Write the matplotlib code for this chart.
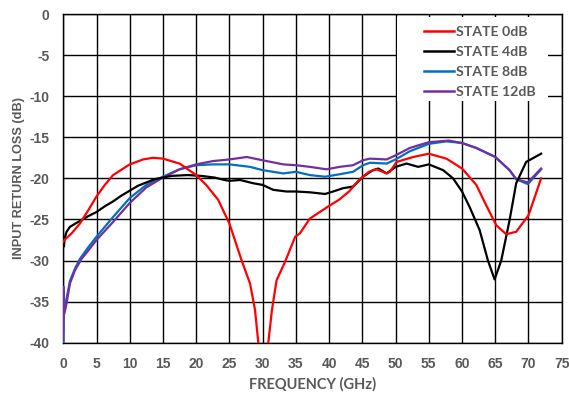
import matplotlib
matplotlib.use('Agg')
import matplotlib.pyplot as plt
from matplotlib import font_manager
from matplotlib.patches import Rectangle

# Input return loss vs frequency for each attenuation state
freq_0db = [0, 0.3, 1.25, 2.5, 3.75, 5, 6.25, 7.5, 10, 12, 13.5, 15, 17.5, 20, 21.5, 23.3,
            25, 26.8, 28.1, 28.85, 29.35, 29.8, 30.4, 30.85, 31.4, 32.1, 33.4, 34.9, 35.6,
            37.1, 39.9, 41.5, 43, 44.5, 46, 47.15, 48.65, 49.15, 50.15, 52.65, 55, 57.65,
            60, 62.15, 63.65, 65.15, 66.65, 68.15, 70, 71.9]
rl_0db = [-27.7, -27.4, -26.7, -25.5, -23.9, -22.2, -20.8, -19.6, -18.3, -17.7, -17.5, -17.6,
          -18.2, -19.6, -20.8, -22.6, -25.5, -29.9, -32.8, -36, -40, -46, -46, -40, -36,
          -32.4, -30.1, -27.1, -26.7, -24.9, -23.4, -22.6, -21.6, -20.2, -19.2, -18.9,
          -19.4, -19.2, -18, -17.4, -17, -17.6, -18.8, -20.8, -23.3, -25.7, -26.8, -26.5,
          -24.5, -20]

freq_4db = [0, 0.1, 0.2, 0.5, 1, 2.25, 3.75, 5, 6.25, 7.5, 8.75, 11.25, 13.75, 16.25, 18.75,
            20.75, 22.75, 24.25, 25, 26.6, 28.6, 30, 31.6, 33.6, 35, 37.1, 39.4, 40.6, 42.1,
            43.6, 45.1, 46.6, 47.4, 48.65, 50, 51.65, 53.4, 55, 57.15, 58.65, 60, 61.15,
            62.65, 63.9, 64.9, 65.9, 67.15, 68.15, 69.65, 71.9]
rl_4db = [-28.1, -28.3, -27.3, -26.5, -25.9, -25.3, -24.6, -24.1, -23.4, -22.8, -22.1, -20.9,
          -20.1, -19.7, -19.6, -19.7, -19.9, -20.2, -20.3, -20.2, -20.6, -20.8, -21.4,
          -21.6, -21.6, -21.7, -21.9, -21.6, -21.2, -21, -19.8, -19, -18.8, -19.4, -18.6,
          -18.2, -18.6, -18.3, -19, -20, -21.6, -23.5, -26.3, -30, -32.3, -30, -25.1,
          -20.6, -18, -17]

freq_8db = [0, 0.1, 0.25, 0.5, 1, 1.75, 2.5, 3.75, 5, 7.5, 10, 12.5, 15, 17.5, 20, 22.5, 25,
            28.1, 30, 33.1, 35, 37.1, 39.4, 41.6, 43.6, 45.1, 46.15, 48.65, 50, 52.15, 55,
            57.65, 60, 62.15, 65, 67.15, 68.15, 69.9, 71.9]
rl_8db = [-40, -36, -35.5, -34.6, -32.5, -31, -29.8, -28.4, -27.1, -24.7, -22.4, -20.8,
          -19.8, -18.9, -18.4, -18.3, -18.3, -18.6, -19, -19.4, -19.2, -19.6, -19.8, -19.5,
          -19.2, -18.4, -18.1, -18.2, -17.7, -16.7, -15.8, -15.5, -15.7, -16.3, -17.4, -19,
          -20.1, -20.7, -18.9]

freq_12db = [0, 0.05, 0.15, 0.5, 1, 1.75, 2.75, 3.75, 5, 7.5, 10, 12.5, 15, 17.5, 20, 22.5,
             25, 27.6, 30, 33.1, 35, 37.1, 39.6, 41.6, 43.6, 45.1, 46.15, 48.65, 50, 52.15,
             55, 58, 60, 62.15, 65, 67.15, 68.15, 69.9, 71.9]
rl_12db = [-39.7, -33.2, -36.5, -35.2, -32.8, -31.2, -29.8, -28.8, -27.5, -25.3, -23, -21.1,
           -19.9, -18.9, -18.3, -17.9, -17.7, -17.4, -17.8, -18.3, -18.4, -18.6, -18.9,
           -18.6, -18.4, -17.8, -17.6, -17.7, -17.2, -16.3, -15.6, -15.4, -15.7, -16.3,
           -17.4, -19, -20.1, -20.5, -18.8]

text_gray = '#595959'
plt.rcParams['axes.unicode_minus'] = False

# narrow face for the legend if present, otherwise Lato
installed = {f.name for f in font_manager.fontManager.ttflist}
if 'Liberation Sans Narrow' in installed:
    legend_font, legend_size = 'Liberation Sans Narrow', 10
else:
    legend_font, legend_size = 'Lato', 10.2

fig = plt.figure(figsize=(5.69, 3.97), dpi=100)
ax = fig.add_axes([0.1112, 0.1368, 0.8760, 0.8279])

ax.plot(freq_0db, rl_0db, color='#FF0000', lw=1.6, label='STATE 0dB', zorder=5)
ax.plot(freq_4db, rl_4db, color='black', lw=1.6, label='STATE 4dB', zorder=4)
ax.plot(freq_8db, rl_8db, color='#0070C0', lw=1.6, label='STATE 8dB', zorder=3)
ax.plot(freq_12db, rl_12db, color='#7030A0', lw=1.6, label='STATE 12dB', zorder=3.5)

ax.set_xlim(0, 75)
ax.set_ylim(-40, 0)
ax.set_xticks(range(0, 76, 5))
ax.set_yticks(range(-40, 1, 5))
ax.grid(True, color='black', lw=1.0)
ax.set_axisbelow(True)
for s in ax.spines.values():
    s.set_color('black')
    s.set_linewidth(1.0)

ax.tick_params(length=0, pad=10, labelsize=10, labelcolor=text_gray)
for lbl in ax.get_xticklabels() + ax.get_yticklabels():
    lbl.set_fontweight('bold')
    lbl.set_family('Liberation Sans')

ax.set_xlabel('FREQUENCY (GHz)', fontsize=10.5, fontweight='bold', color=text_gray,
              family='Lato', labelpad=5)
ax.set_ylabel('INPUT RETURN LOSS (dB)', fontsize=9.2, fontweight='bold', color=text_gray,
              family='Liberation Sans', labelpad=3)

# white panel behind the legend hides the grid there
ax.add_patch(Rectangle((0.6695, 0.7353), 0.303, 0.2556, transform=ax.transAxes,
                       facecolor='white', edgecolor='none', zorder=1))

leg = ax.legend(loc='upper left', bbox_to_anchor=(0.7243, 0.965), borderaxespad=0,
                frameon=False, handlelength=2.1, handletextpad=0.17,
                labelspacing=0.57, borderpad=0,
                prop={'family': legend_font, 'weight': 'bold', 'size': legend_size})
for t in leg.get_texts():
    t.set_color(text_gray)
for h in leg.get_lines():
    h.set_linewidth(1.8)

fig.savefig('out.png', dpi=100)
